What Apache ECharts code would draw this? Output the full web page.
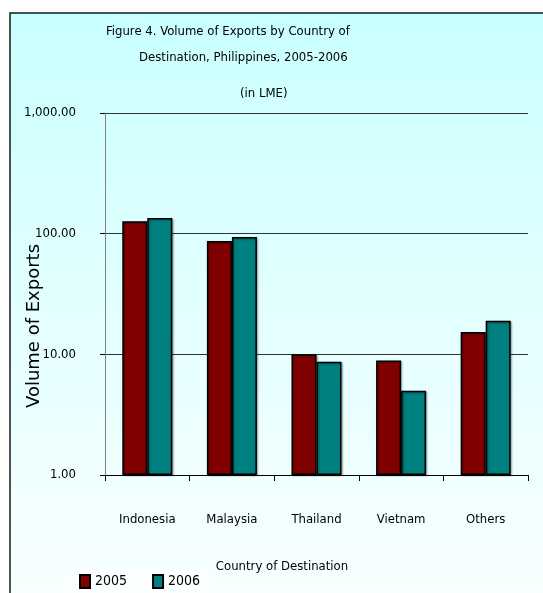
<!DOCTYPE html>
<html>
<head>
<meta charset="utf-8">
<script src="https://cdn.jsdelivr.net/npm/echarts@6/dist/echarts.min.js"></script>
<style>
html,body{margin:0;padding:0;background:#fff;}
#chart{width:543px;height:593px;}
</style>
</head>
<body>
<div id="chart"></div>
<script>
var categories = ['Indonesia', 'Malaysia', 'Thailand', 'Vietnam', 'Others'];
var seriesNames = ['2005', '2006'];
var values2005 = [127, 87, 10.0, 8.9, 15.3];
var values2006 = [135, 94, 8.7, 5.0, 19.0];
var titleLines = ['Figure 4. Volume of Exports by Country of', 'Destination, Philippines, 2005-2006', '(in LME)'];
var yAxisTitle = 'Volume of Exports';
var xAxisTitle = 'Country of Destination';

var NARROW = '"DejaVu Sans Condensed", "Liberation Sans Narrow", "Arial Narrow", sans-serif';
var WIDE = '"DejaVu Sans", Verdana, sans-serif';

function fmt(v) {
  var s = Number(v).toFixed(2);
  var parts = s.split('.');
  parts[0] = parts[0].replace(/\B(?=(\d{3})+(?!\d))/g, ',');
  return parts.join('.');
}

var chart = echarts.init(document.getElementById('chart'));
var titleStyle = {fontFamily: NARROW, fontSize: 13, fontWeight: 'normal', color: '#000'};
var option = {
  backgroundColor: new echarts.graphic.LinearGradient(0, 0, 0, 1, [
    {offset: 0, color: '#c8ffff'},
    {offset: 0.5, color: '#e2ffff'},
    {offset: 1, color: '#f8ffff'}
  ]),
  animation: false,
  title: [
    {text: titleLines[0], left: 106, top: 25, padding: 0, textStyle: titleStyle},
    {text: titleLines[1], left: 139, top: 51, padding: 0, textStyle: titleStyle},
    {text: titleLines[2], left: 240, top: 87, padding: 0, textStyle: titleStyle}
  ],
  legend: {
    data: seriesNames,
    icon: 'rect',
    left: 70,
    top: 567,
    padding: [7, 10, 7, 9],
    itemWidth: 10,
    itemHeight: 13,
    itemGap: 25,
    backgroundColor: 'rgba(255,255,255,0.55)',
    textStyle: {fontFamily: NARROW, fontSize: 14, color: '#000'}
  },
  grid: {left: 105, top: 113, right: 15, bottom: 118, containLabel: false},
  xAxis: {
    type: 'category',
    data: categories,
    axisLine: {show: true, lineStyle: {color: '#000', width: 1}},
    axisTick: {show: true, length: 6, lineStyle: {color: '#000'}},
    axisLabel: {interval: 0, margin: 38, fontFamily: NARROW, fontSize: 13, color: '#000'},
    splitLine: {show: false}
  },
  yAxis: {
    type: 'log',
    logBase: 10,
    min: 1,
    max: 1000,
    axisLine: {show: true, lineStyle: {color: '#808080', width: 1}},
    axisTick: {show: true, length: 5, lineStyle: {color: '#000'}},
    axisLabel: {margin: 29, fontFamily: NARROW, fontSize: 13, color: '#000', formatter: fmt},
    splitLine: {show: true, lineStyle: {color: '#333', width: 1}},
    minorTick: {show: false}
  },
  graphic: [
    {type: 'rect', silent: true, z: 100, shape: {x: 0, y: 0, width: 543, height: 12}, style: {fill: '#fff'}},
    {type: 'rect', silent: true, z: 100, shape: {x: 0, y: 0, width: 9, height: 593}, style: {fill: '#fff'}},
    {type: 'rect', silent: true, z: 101, shape: {x: 10, y: 13, width: 560, height: 620}, style: {fill: null, stroke: '#1a1a1a', lineWidth: 1.5}},
    {type: 'text', silent: true, z: 50, x: 34, y: 326, rotation: Math.PI / 2,
      style: {text: yAxisTitle, fontFamily: WIDE, fontSize: 18, fill: '#000', textAlign: 'center', textVerticalAlign: 'middle'}},
    {type: 'text', silent: true, z: 50, x: 282, y: 567,
      style: {text: xAxisTitle, fontFamily: NARROW, fontSize: 13, fill: '#000', textAlign: 'center', textVerticalAlign: 'middle'}}
  ],
  series: [
    {
      name: seriesNames[0], type: 'bar', data: values2005,
      barWidth: 25, barGap: '0%',
      itemStyle: {color: '#800000', borderColor: '#000', borderWidth: 1.5, shadowColor: 'rgba(0,0,0,0.35)', shadowBlur: 2, shadowOffsetX: 1, shadowOffsetY: 1}
    },
    {
      name: seriesNames[1], type: 'bar', data: values2006,
      barWidth: 25, barGap: '0%',
      itemStyle: {color: '#008080', borderColor: '#000', borderWidth: 1.5, shadowColor: 'rgba(0,0,0,0.35)', shadowBlur: 2, shadowOffsetX: 1, shadowOffsetY: 1}
    }
  ]
};
chart.setOption(option);
</script>
</body>
</html>
